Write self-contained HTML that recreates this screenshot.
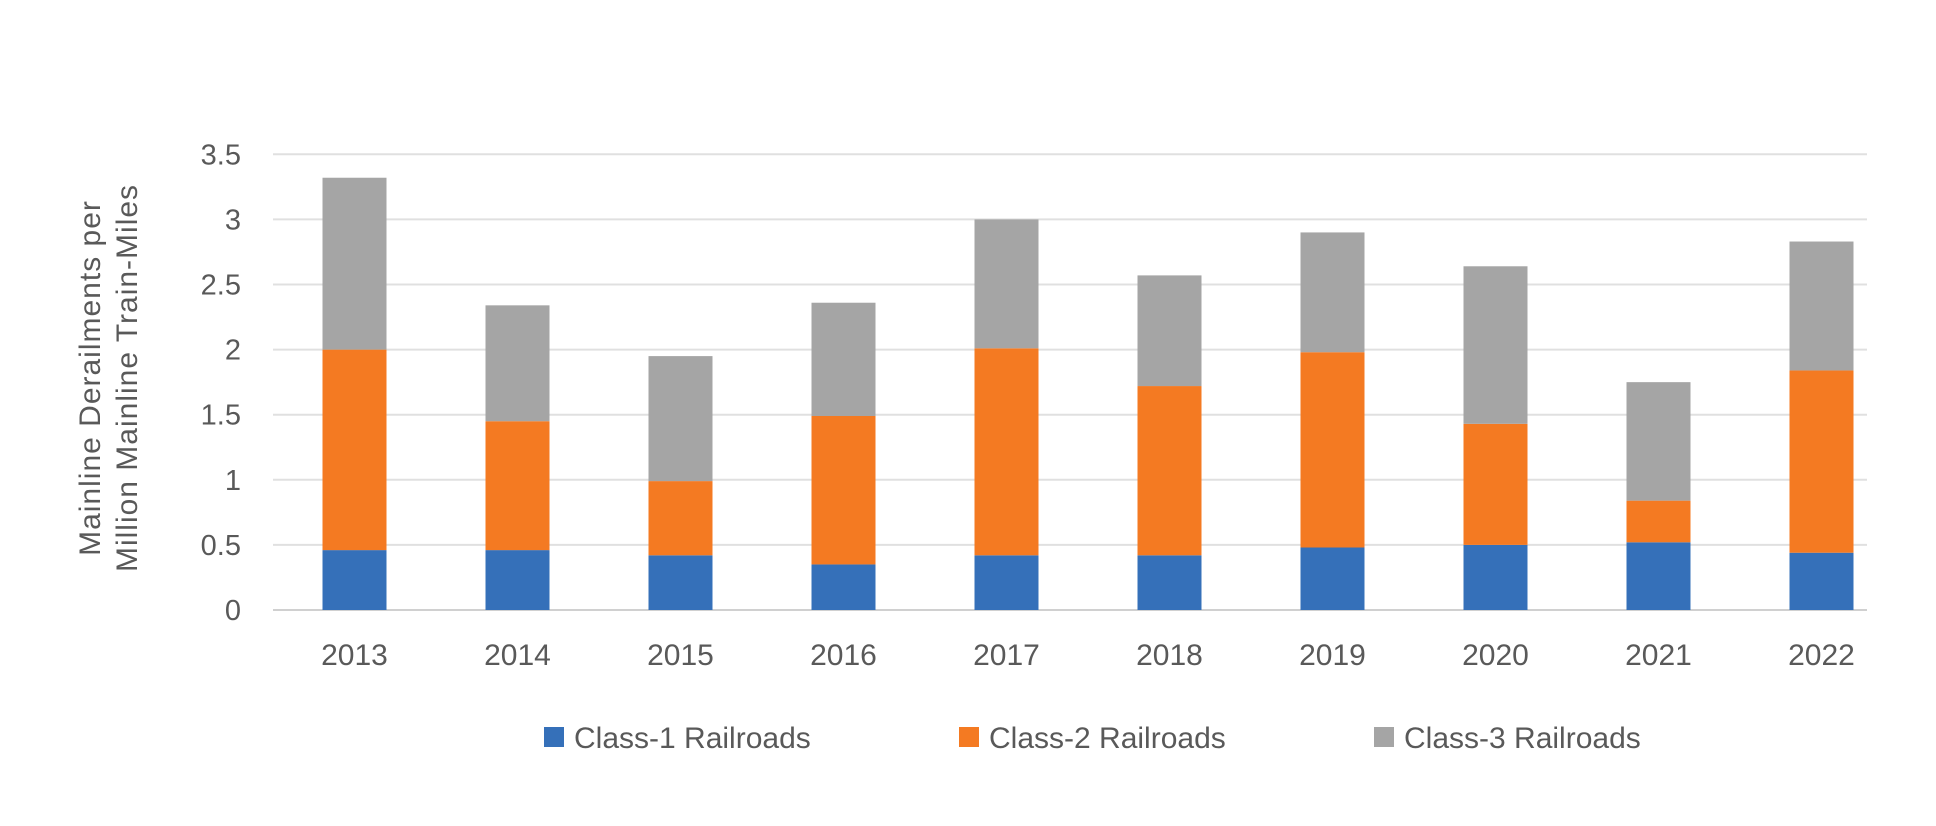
<!DOCTYPE html>
<html><head><meta charset="utf-8"><style>
body{margin:0;background:#fff;}
svg{display:block;font-family:"Liberation Sans",sans-serif;}
</style></head><body>
<svg id="chart" width="1936" height="826"></svg>
<script>
const categories=["2013","2014","2015","2016","2017","2018","2019","2020","2021","2022"];
const class1=[0.46,0.46,0.42,0.35,0.42,0.42,0.48,0.50,0.52,0.44];
const class2=[1.54,0.99,0.57,1.14,1.59,1.30,1.50,0.93,0.32,1.40];
const class3=[1.32,0.89,0.96,0.87,0.99,0.85,0.92,1.21,0.91,0.99];
const yTicks=[0,0.5,1,1.5,2,2.5,3,3.5];
const seriesNames=["Class-1 Railroads","Class-2 Railroads","Class-3 Railroads"];
const colors=["#3570b9","#f47a22","#a5a5a5"];
const NS="http://www.w3.org/2000/svg";
const svg=document.getElementById("chart");
const X0=273,X1=1903,GX1=1867,Y0=610,YTOP=154.3,YMAX=3.5;
const band=(X1-X0)/categories.length;
const y=v=>Y0-(v/YMAX)*(Y0-YTOP);
const xc=i=>X0+band*(i+0.5);
const BW=64;
function mk(tag,attrs){const e=document.createElementNS(NS,tag);for(const k in attrs)e.setAttribute(k,attrs[k]);svg.appendChild(e);return e;}
yTicks.forEach(t=>{
  const l=mk("line",{x1:X0,x2:GX1,y1:y(t),y2:y(t),stroke:t===0?"#d0d0d0":"#e0e0e0","stroke-width":2});
  
  
  const tx=mk("text",{x:241,y:y(t)+10,"text-anchor":"end","font-size":29,fill:"#595959"});
  tx.textContent=String(t);
  
  
});
const series=[class1,class2,class3];
categories.forEach((c,i)=>{
  let base=0;
  series.forEach((s,k)=>{
    const r=mk("rect",{x:xc(i)-BW/2,y:y(base+s[i]),width:BW,height:y(base)-y(base+s[i]),fill:colors[k]});
    
    
    base+=s[i];
  });
  const t=mk("text",{x:xc(i),y:665,"text-anchor":"middle","font-size":30,fill:"#595959"});
  t.textContent=c;
  
  
});
const t1=mk("text",{x:0,y:0,"text-anchor":"middle","font-size":30,fill:"#595959","letter-spacing":"1",transform:"translate(108,378) rotate(-90)"});


const ts1=document.createElementNS(NS,"tspan");ts1.setAttribute("x",0);ts1.setAttribute("dy","-8");ts1.textContent="Mainline Derailments per";t1.appendChild(ts1);
const ts2=document.createElementNS(NS,"tspan");ts2.setAttribute("x",0);ts2.setAttribute("dy","37");ts2.textContent="Million Mainline Train-Miles";t1.appendChild(ts2);
const legX=[544,959,1374];
seriesNames.forEach((n,k)=>{
  const r=mk("rect",{x:legX[k],y:727,width:20,height:20,fill:colors[k]});
  
  
  const t=mk("text",{x:legX[k]+30,y:748,"font-size":30,fill:"#595959"});
  t.textContent=n;
  
  
});
</script>
</body></html>
